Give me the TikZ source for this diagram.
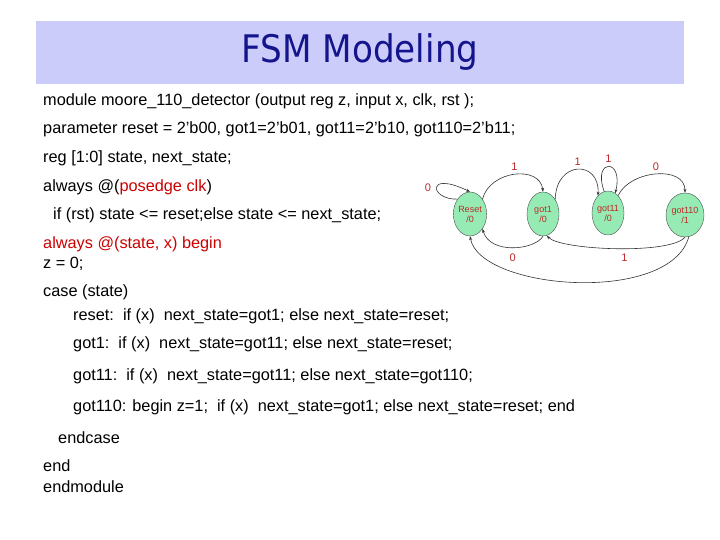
\documentclass[tikz,border=0pt]{standalone}
\usepackage{fontspec}
\setmainfont{Liberation Sans}
\newfontfamily\titlefont{DejaVu Sans}[FakeStretch=0.9]
\usetikzlibrary{arrows.meta,shapes.geometric}
\definecolor{band}{RGB}{204,204,250}
\definecolor{ttl}{RGB}{20,20,140}
\definecolor{stf}{RGB}{150,235,180}
\definecolor{lbl}{RGB}{190,40,40}
\begin{document}
\begin{tikzpicture}[x=1pt,y=-1pt,
  code/.style={anchor=west,inner sep=0pt,font=\fontsize{16.3}{18}\selectfont},
  st/.style={ellipse,draw=black!70,fill=stf,minimum width=32,minimum height=44,inner sep=0pt,align=center,text=lbl,font=\fontsize{9}{10}\selectfont},
  tr/.style={-{Stealth[length=4pt]},black!80,semithick},
  lb/.style={text=lbl,font=\fontsize{11}{12}\selectfont}]
\useasboundingbox (0,0) rectangle (720,540);
\fill[band] (36,21) rectangle (684,84);
\node[text=ttl,font=\titlefont\fontsize{38}{40}\selectfont] (title) at (360,52) {FSM Modeling};
\node[code] (l1) at (43,101) {module moore\_110\_detector (output reg z, input x, clk, rst );};
\node[code] (l2) at (43,129) {parameter reset = 2'b00, got1=2'b01, got11=2'b10, got110=2'b11;};
\node[code] (l3) at (43,158) {reg [1:0] state, next\_state;};
\node[code] (l4) at (43,187) {always @(\textcolor{red!80!black}{posedge clk})};
\node[code] (l5) at (53,215) {if (rst) state <= reset;else state <= next\_state;};
\node[code,text=red!80!black] (l6) at (43,244) {always @(state, x) begin};
\node[code] (l7) at (43,264) {z = 0;};
\node[code] (l8) at (43,292) {case (state)};
\node[code] (l9) at (73,316) {reset:\ \ if (x)\ \ next\_state=got1; else next\_state=reset;};
\node[code] (l10) at (73,344) {got1:\ \ if (x)\ \ next\_state=got11; else next\_state=reset;};
\node[code] (l11) at (73,376) {got11:\ \ if (x)\ \ next\_state=got11; else next\_state=got110;};
\node[code] (l12) at (73,407) {got110: begin z=1;\ \ if (x)\ \ next\_state=got1; else next\_state=reset; end};
\node[code] (l13) at (58,438) {endcase};
\node[code] (l14) at (43,466) {end};
\node[code] (l15) at (43,487) {endmodule};
% FSM
\node[st] (r) at (470,214) {Reset\\/0};
\node[st] (g1) at (543,214) {got1\\/0};
\node[st] (g11) at (608,213) {got11\\/0};
\node[st] (g110) at (685,215) {got110\\/1};
\draw[tr] (r.130) .. controls (430,200) and (425,170) .. node[lb,pos=0.5,left,xshift=-2] {0} (r.90);
\draw[tr] (r.50) .. controls (490,170) and (540,165) .. node[lb,pos=0.5,above] {1} (g1.90);
\draw[tr] (g1.50) .. controls (556,160) and (600,160) .. node[lb,pos=0.5,above] {1} (g11.120);
\draw[tr] (g11.100) .. controls (592,158) and (624,158) .. node[lb,pos=0.5,above] {1} (g11.70);
\draw[tr] (g11.60) .. controls (630,170) and (685,165) .. node[lb,pos=0.5,above] {0} (g110.90);
\draw[tr] (g1.270) .. controls (535,250) and (490,255) .. node[lb,pos=0.5,below,yshift=-3] {0} (r.310);
\draw[tr] (g110.270) .. controls (670,255) and (560,250) .. node[lb,pos=0.45,below,yshift=-2] {1} (g1.280);
\draw[tr] (g110.280) .. controls (670,305) and (480,290) .. (r.270);
\end{tikzpicture}
\end{document}
